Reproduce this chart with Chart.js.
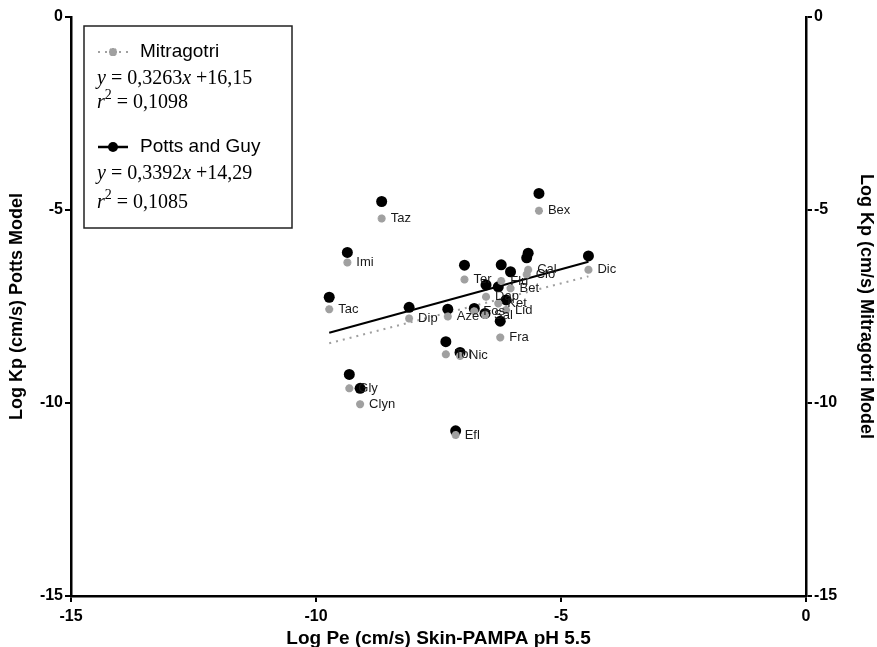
<!DOCTYPE html>
<html>
<head>
<meta charset="utf-8">
<script src="https://cdn.jsdelivr.net/npm/chart.js@4.4.1/dist/chart.umd.min.js"></script>
<style>
  html, body { margin: 0; padding: 0; background: #fff; }
  #wrap { width: 877px; height: 647px; position: relative; }
</style>
</head>
<body>
<div id="wrap"><canvas id="myChart" width="877" height="647"></canvas></div>
<script>
// drug codes and values
const drugs = ['Taz', 'Bex', 'Imi', 'Tac', 'Dip', 'Aze', 'Ter', 'Tol', 'Nic', 'Gly', 'Clyn', 'Efl',
  'Dic', 'Cal', 'Clo', 'Flu', 'Bet', 'Dap', 'Ket', 'Lid', 'Fra', 'Fos', 'Sal'];
const logPe = [-8.66, -5.45, -9.36, -9.73, -8.10, -7.31, -6.97, -7.35, -7.06, -9.32, -9.10, -7.15,
  -4.44, -5.67, -5.70, -6.22, -6.03, -6.53, -6.28, -6.12, -6.24, -6.77, -6.55];
const pottsKp = [-4.78, -4.57, -6.10, -7.26, -7.52, -7.57, -6.43, -8.41, -8.69, -9.26, -9.62, -10.72,
  -6.19, -6.12, -6.24, -6.42, -6.60, -6.94, -6.99, -7.33, -7.88, -7.55, -7.68];
const mitragotriKp = [-5.22, -5.02, -6.36, -7.57, -7.81, -7.76, -6.80, -8.74, -8.78, -9.62, -10.03, -10.83,
  -6.55, -6.55, -6.67, -6.84, -7.03, -7.25, -7.42, -7.59, -8.30, -7.62, -7.72];

// regression line end points
const fitX = [-9.73, -4.44];
const pottsFit = [-8.18, -6.34];
const mitragotriFit = [-8.45, -6.72];

const axisTicks = [-15, -10, -5, 0];

const toPoints = (xs, ys) => xs.map((x, i) => ({ x: x, y: ys[i] }));

const GREY = '#a0a0a0';
const AXIS_FONT = { family: 'Liberation Sans, Arial', size: 18, weight: 'bold' };
const X_TITLE_FONT = { family: 'Liberation Sans, Arial', size: 19, weight: 'bold' };
const TICK_FONT = { family: 'Liberation Sans, Arial', size: 16, weight: 'bold' };

const drugLabels = {
  id: 'drugLabels',
  afterDatasetsDraw(chart) {
    const ctx = chart.ctx;
    const xs = chart.scales.x, ys = chart.scales.y;
    ctx.save();
    ctx.font = '13px "Liberation Sans", Arial';
    ctx.fillStyle = '#1a1a1a';
    ctx.textBaseline = 'middle';
    drugs.forEach((d, i) => {
      ctx.fillText(d, xs.getPixelForValue(logPe[i]) + 9, ys.getPixelForValue(mitragotriKp[i]));
    });
    ctx.restore();
  }
};

const eqLine = (ctx, x, y, parts) => {
  let cx = x;
  parts.forEach(([txt, style]) => {
    if (style === 'sup') {
      ctx.font = '14px "Liberation Serif", "Times New Roman"';
      ctx.fillText(txt, cx, y - 9);
    } else {
      ctx.font = (style === 'i' ? 'italic ' : '') + '20px "Liberation Serif", "Times New Roman"';
      ctx.fillText(txt, cx, y);
    }
    cx += ctx.measureText(txt).width;
  });
};

const legendBox = {
  id: 'legendBox',
  afterDraw(chart) {
    const ctx = chart.ctx;
    ctx.save();
    ctx.fillStyle = '#fff';
    ctx.fillRect(84, 26, 208, 202);
    ctx.strokeStyle = '#222';
    ctx.lineWidth = 1.5;
    ctx.strokeRect(84, 26, 208, 202);

    // Mitragotri sample
    ctx.strokeStyle = GREY;
    ctx.lineWidth = 2;
    ctx.setLineDash([2, 5]);
    ctx.beginPath(); ctx.moveTo(98, 52); ctx.lineTo(128, 52); ctx.stroke();
    ctx.setLineDash([]);
    ctx.lineWidth = 2.5;
    ctx.beginPath();
    ctx.moveTo(109, 52); ctx.lineTo(117, 52);
    ctx.moveTo(113, 48); ctx.lineTo(113, 56);
    ctx.moveTo(110, 49); ctx.lineTo(116, 55);
    ctx.moveTo(116, 49); ctx.lineTo(110, 55);
    ctx.stroke();

    ctx.fillStyle = '#000';
    ctx.textBaseline = 'middle';
    ctx.font = '19px "Liberation Sans", Arial';
    ctx.fillText('Mitragotri', 140, 52);
    ctx.textBaseline = 'alphabetic';
    eqLine(ctx, 97, 84, [['y', 'i'], [' = 0,3263', ''], ['x', 'i'], [' +16,15', '']]);
    eqLine(ctx, 97, 108, [['r', 'i'], ['2', 'sup'], [' = 0,1098', '']]);

    // Potts and Guy sample
    ctx.strokeStyle = '#000';
    ctx.lineWidth = 2.5;
    ctx.beginPath(); ctx.moveTo(98, 147); ctx.lineTo(128, 147); ctx.stroke();
    ctx.beginPath(); ctx.arc(113, 147, 5, 0, Math.PI * 2); ctx.fill();
    ctx.textBaseline = 'middle';
    ctx.font = '19px "Liberation Sans", Arial';
    ctx.fillText('Potts and Guy', 140, 147);
    ctx.textBaseline = 'alphabetic';
    eqLine(ctx, 97, 179, [['y', 'i'], [' = 0,3392', ''], ['x', 'i'], [' +14,29', '']]);
    eqLine(ctx, 97, 208, [['r', 'i'], ['2', 'sup'], [' = 0,1085', '']]);
    ctx.restore();
  }
};

const ctx = document.getElementById('myChart').getContext('2d');
new Chart(ctx, {
  type: 'scatter',
  data: {
    datasets: [
      {
        label: 'Mitragotri',
        data: toPoints(logPe, mitragotriKp),
        pointStyle: 'star',
        pointRadius: 4,
        pointBorderWidth: 2.6,
        pointBorderColor: GREY,
        pointBackgroundColor: GREY,
        order: 1,
      },
      {
        label: 'Potts and Guy',
        data: toPoints(logPe, pottsKp),
        pointStyle: 'circle',
        pointRadius: 5.5,
        pointBorderWidth: 0,
        pointBackgroundColor: '#000',
        order: 2,
      },
      {
        label: 'Mitragotri fit',
        type: 'line',
        data: toPoints(fitX, mitragotriFit),
        borderColor: GREY,
        borderWidth: 2,
        borderDash: [2, 5],
        pointRadius: 0,
        order: 3,
      },
      {
        label: 'Potts fit',
        type: 'line',
        data: toPoints(fitX, pottsFit),
        borderColor: '#000',
        borderWidth: 2.2,
        pointRadius: 0,
        order: 3,
      },
    ],
  },
  options: {
    responsive: false,
    animation: false,
    layout: { padding: { top: 17, right: 0, left: 0, bottom: 0 } },
    plugins: {
      legend: { display: false },
      tooltip: { enabled: false },
    },
    scales: {
      x: {
        type: 'linear',
        min: -15,
        max: 0,
        afterBuildTicks: (s) => { s.ticks = axisTicks.map(v => ({ value: v })); },
        afterFit: (s) => { s.height = 51; },
        grid: { drawOnChartArea: false, drawTicks: true, tickLength: 6, color: '#000', lineWidth: 2 },
        border: { display: true, color: '#000', width: 2.5 },
        ticks: { color: '#000', font: TICK_FONT, padding: 5 },
        title: { display: true, text: 'Log Pe (cm/s) Skin-PAMPA pH 5.5', color: '#000', font: X_TITLE_FONT, padding: { top: 2, bottom: -3 } },
      },
      y: {
        type: 'linear',
        position: 'left',
        min: -15,
        max: 0,
        afterBuildTicks: (s) => { s.ticks = axisTicks.map(v => ({ value: v })); },
        afterFit: (s) => { s.width = 71; },
        grid: { drawOnChartArea: false, drawTicks: true, tickLength: 6, color: '#000', lineWidth: 2 },
        border: { display: true, color: '#000', width: 2.5 },
        ticks: { color: '#000', font: TICK_FONT, padding: 2 },
        title: { display: true, text: 'Log Kp (cm/s) Potts Model', color: '#000', font: AXIS_FONT, padding: { top: 6, bottom: 0 } },
      },
      y2: {
        type: 'linear',
        position: 'right',
        min: -15,
        max: 0,
        afterBuildTicks: (s) => { s.ticks = axisTicks.map(v => ({ value: v })); },
        afterFit: (s) => { s.width = 71; },
        grid: { drawOnChartArea: false, drawTicks: true, tickLength: 6, color: '#000', lineWidth: 2 },
        border: { display: true, color: '#000', width: 2.5 },
        ticks: { color: '#000', font: TICK_FONT, padding: 2 },
        title: { display: true, text: 'Log Kp (cm/s) Mitragotri Model', color: '#000', font: AXIS_FONT, padding: { top: 0, bottom: 0 } },
      },
    },
  },
  plugins: [drugLabels, legendBox],
});
</script>
</body>
</html>
